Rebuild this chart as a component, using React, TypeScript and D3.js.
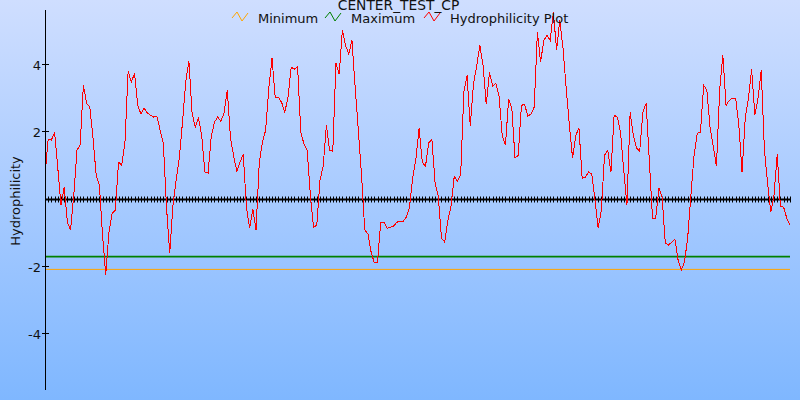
import * as React from "react";
import * as d3 from "d3";

const TITLE = "CENTER_TEST_CP";
const Y_LABEL = "Hydrophilicity";
const Y_TICKS = [-4, -2, 2, 4];
const LEGEND_LABELS = ["Minimum", "Maximum", "Hydrophilicity Plot"];

// threshold lines
const MINIMUM = -2.1;
const MAXIMUM = -1.72;

// hydrophilicity per window position
const HYDRO = [
  0.7, 1.77, 1.74, 1.97, 0.91, -0.19, 0.34, -0.7, -0.93, 0.1,
  1.44, 1.59, 3.37, 2.83, 2.72, 1.82, 0.7, 0.4, -1.08, -2.27,
  -0.99, -0.43, -0.34, 1.08, 0.99, 1.65, 3.78, 3.46, 3.72, 2.77,
  2.51, 2.69, 2.54, 2.48, 2.42, 2.45, 2.03, 1.65, -0.25, -1.62,
  -0.22, 0.55, 1.2, 2.27, 3.46, 4.08, 2.54, 2.12, 2.39, 1.88,
  0.79, 0.76, 1.85, 2.27, 2.42, 2.3, 2.54, 3.22, 1.82, 1.26,
  0.82, 1.08, 1.32, -0.25, -0.88, -0.31, -0.93, 1.05, 1.68, 2.03,
  3.28, 4.17, 3.01, 3.01, 2.86, 2.57, 3.01, 3.9, 3.84, 3.93,
  1.97, 1.62, 1.44, 0.1, -0.85, -0.79, 0.55, 0.96, 2.18, 1.44,
  1.4, 4.02, 3.69, 5.0, 4.55, 4.29, 4.7, 3.31, 2.03, 0.7,
  -0.93, -1.05, -1.59, -1.91, -1.88, -0.7, -0.7, -0.88, -0.85, -0.82,
  -0.7, -0.67, -0.67, -0.55, -0.25, 0.61, 1.17, 2.09, 1.08, 0.96,
  1.65, 1.77, 0.46, 0.07, -1.17, -1.29, -0.64, -0.22, 0.67, 0.52,
  0.7, 3.16, 3.66, 2.15, 3.4, 3.93, 4.55, 3.96, 2.8, 3.75,
  3.34, 3.43, 3.04, 1.88, 1.59, 2.95, 2.69, 1.2, 1.29, 2.77,
  2.8, 2.45, 2.51, 2.72, 4.94, 4.05, 4.7, 4.85, 4.7, 5.53,
  4.41, 5.3, 4.47, 3.28, 2.18, 1.2, 1.88, 2.09, 0.61, 0.64,
  0.79, 0.73, -0.04, -0.88, -0.34, 1.29, 1.44, 0.79, 2.48, 2.42,
  1.97, 0.85, -0.19, 2.57, 1.88, 1.5, 1.41, 2.57, 2.83, 1.14,
  -0.58, -0.58, 0.31, 0.04, -1.32, -1.38, -1.29, -1.2, -1.82, -2.12,
  -1.88, -1.17, 0.1, 1.29, 1.94, 1.97, 3.37, 3.22, 2.12, 1.56,
  0.96, 3.22, 4.26, 2.77, 2.92, 2.98, 2.98, 2.18, 0.79, 2.39,
  2.98, 3.84, 2.48, 2.98, 3.81, 1.44, 0.46, -0.4, 0.1, 1.32,
  -0.22, -0.25, -0.58, -0.79,
];

const W = 800;
const H = 400;
const FONT = "'DejaVu Sans', Verdana, sans-serif";
const COLORS = ["#ffa500", "#008000", "#ff0000"];
const LEGEND_X = [232, 325, 424];

export default function App() {
  const svgRef = React.useRef<SVGSVGElement>(null);

  React.useEffect(() => {
    const svg = d3.select(svgRef.current);
    svg.selectAll("*").remove();

    const grad = svg.append("defs").append("linearGradient")
      .attr("id", "bg").attr("x1", 0).attr("y1", 0).attr("x2", 0).attr("y2", 1);
    grad.append("stop").attr("offset", "0%").attr("stop-color", "#cfdeff");
    grad.append("stop").attr("offset", "100%").attr("stop-color", "#7fb7ff");
    svg.append("rect").attr("width", W).attr("height", H).attr("fill", "url(#bg)");

    const x = d3.scaleLinear().domain([0, HYDRO.length - 1]).range([45, 790]);
    const y = d3.scaleLinear().domain([-5.68, 5.6]).range([390, 10]);

    // threshold lines
    svg.append("line")
      .attr("x1", x(0)).attr("x2", x(HYDRO.length - 1))
      .attr("y1", y(MINIMUM)).attr("y2", y(MINIMUM))
      .attr("stroke", COLORS[0]).attr("stroke-width", 1);
    svg.append("line")
      .attr("x1", x(0)).attr("x2", x(HYDRO.length - 1))
      .attr("y1", y(MAXIMUM)).attr("y2", y(MAXIMUM))
      .attr("stroke", COLORS[1]).attr("stroke-width", 1.6);

    // x axis at zero with a tick per position
    const y0 = Math.round(y(0)) + 0.5;
    svg.append("line")
      .attr("x1", x(0)).attr("x2", x(HYDRO.length - 1))
      .attr("y1", y0).attr("y2", y0)
      .attr("stroke", "#000").attr("stroke-width", 2);
    svg.append("g").selectAll("line")
      .data(HYDRO)
      .enter()
      .append("line")
      .attr("x1", (d, i) => Math.round(x(i)) + 0.5)
      .attr("x2", (d, i) => Math.round(x(i)) + 0.5)
      .attr("y1", y0 - 3).attr("y2", y0 + 3)
      .attr("stroke", "#000").attr("stroke-width", 1);

    // the plot
    const line = d3.line<number>().x((d, i) => x(i)).y((d) => y(d));
    svg.append("path")
      .attr("d", line(HYDRO)!)
      .attr("fill", "none")
      .attr("stroke", COLORS[2])
      .attr("stroke-width", 1)
      .attr("shape-rendering", "crispEdges");

    // y axis
    svg.append("line")
      .attr("x1", 45.5).attr("x2", 45.5).attr("y1", 10).attr("y2", 390)
      .attr("stroke", "#000").attr("stroke-width", 1);
    const ticks = svg.append("g");
    Y_TICKS.forEach((t) => {
      const ty = Math.round(y(t)) + 0.5;
      ticks.append("line")
        .attr("x1", 42).attr("x2", 49).attr("y1", ty).attr("y2", ty)
        .attr("stroke", "#000");
      ticks.append("text")
        .attr("x", 41).attr("y", ty + 5)
        .attr("text-anchor", "end")
        .attr("font-family", FONT).attr("font-size", 13).attr("fill", "#111")
        .text(String(t));
    });

    svg.append("text")
      .attr("transform", "translate(19.5,201) rotate(-90)")
      .attr("text-anchor", "middle")
      .attr("font-family", FONT).attr("font-size", 13).attr("fill", "#111")
      .text(Y_LABEL);

    // title + legend (the title sits half off the top edge, as in the source)
    svg.append("text")
      .attr("x", 398.5).attr("y", 9.5)
      .attr("text-anchor", "middle")
      .attr("font-family", FONT).attr("font-size", 13.8).attr("fill", "#111")
      .text(TITLE);

    LEGEND_LABELS.forEach((label, k) => {
      const lx = LEGEND_X[k];
      const g = svg.append("g").attr("transform", `translate(${lx},12)`);
      g.append("path")
        .attr("d", "M0,6L5,0L10,9L16,1")
        .attr("fill", "none").attr("stroke", COLORS[k]).attr("stroke-width", 1);
      g.append("text")
        .attr("x", 26).attr("y", 10.5)
        .attr("font-family", FONT).attr("font-size", 13).attr("fill", "#111")
        .text(label);
    });
  }, []);

  return (
    <svg
      ref={svgRef}
      width={W}
      height={H}
      style={{ position: "fixed", left: 0, top: 0, display: "block" }}
    />
  );
}
